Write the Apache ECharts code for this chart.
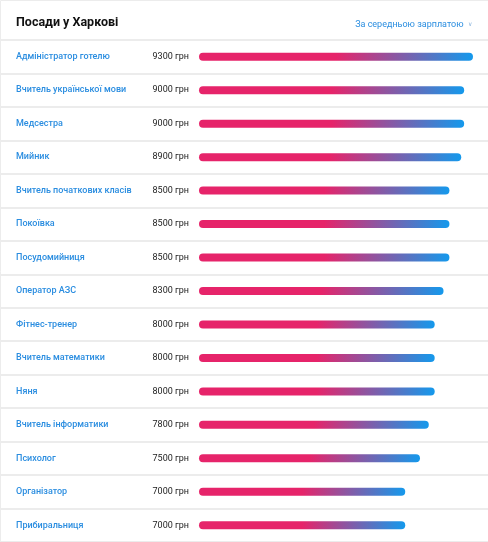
<!DOCTYPE html>
<html><head><meta charset="utf-8">
<script src="https://cdn.jsdelivr.net/npm/echarts@6/dist/echarts.min.js"></script>
<style>html,body{margin:0;padding:0;background:#fff}#c{width:488px;height:542px}</style>
</head><body><div id="c"></div>
<script>
var categories = ["Адміністратор готелю","Вчитель української мови","Медсестра","Мийник","Вчитель початкових класів","Покоївка","Посудомийниця","Оператор АЗС","Фітнес-тренер","Вчитель математики","Няня","Вчитель інформатики","Психолог","Організатор","Прибиральниця"];
var salaries = [9300,9000,9000,8900,8500,8500,8500,8300,8000,8000,8000,7800,7500,7000,7000];
var unit = "грн";
var titleText = "Посади у Харкові";
var sortText = "За середньою зарплатою";

var chart = echarts.init(document.getElementById('c'));
var grad = new echarts.graphic.LinearGradient(0,0,1,0,[
  {offset:0,color:'#e6246a'},{offset:0.5,color:'#e6246a'},{offset:1,color:'#1499ec'}]);
chart.setOption({
  animation:false,
  textStyle:{fontFamily:'Roboto'},
  title:[
    {text:titleText,left:11,top:11,textStyle:{fontSize:12.5,fontWeight:'bold',color:'#111',fontFamily:'Roboto'}},
    {text:sortText+'  {c|∨}',right:11,top:15,textStyle:{fontSize:9,fontWeight:'normal',color:'#2b8ee0',fontFamily:'Roboto',rich:{c:{fontSize:6,color:'#8ab4dd'}}}}
  ],
  graphic:[{type:'rect',shape:{x:0.5,y:0.5,width:494,height:560},style:{fill:'none',stroke:'#ececec',lineWidth:1},silent:true,z:-1}],
  grid:[
    {left:199,right:15,top:40,bottom:0},
    {left:0,right:0,top:40,bottom:0}
  ],
  xAxis:[
    {type:'value',gridIndex:0,min:0,max:9300,show:false},
    {type:'value',gridIndex:1,min:0,max:1,show:false}
  ],
  yAxis:[
    {type:'category',gridIndex:0,data:categories,inverse:true,
     axisLine:{show:false},axisTick:{show:false},splitLine:{show:false},
     axisLabel:{margin:10,align:'right',
       formatter:function(v,i){return '{n|'+v+'}{v|'+salaries[i]+' '+unit+'}';},
       rich:{n:{width:120,align:'left',fontSize:9,fontWeight:500,color:'#2a8de0',fontFamily:'Roboto'},
             v:{width:53,align:'right',fontSize:9,color:'#222',fontFamily:'Roboto'}}}},
    {type:'category',gridIndex:1,data:categories,inverse:true,
     axisLine:{show:false},axisTick:{show:false},axisLabel:{show:false},
     splitLine:{show:true,lineStyle:{color:'#ececec',width:2}}}
  ],
  series:[
    {type:'bar',xAxisIndex:0,yAxisIndex:0,data:salaries,barWidth:8,
     itemStyle:{color:grad,borderRadius:4}},
    {type:'bar',xAxisIndex:1,yAxisIndex:1,data:[],silent:true}
  ]
});
</script></body></html>
